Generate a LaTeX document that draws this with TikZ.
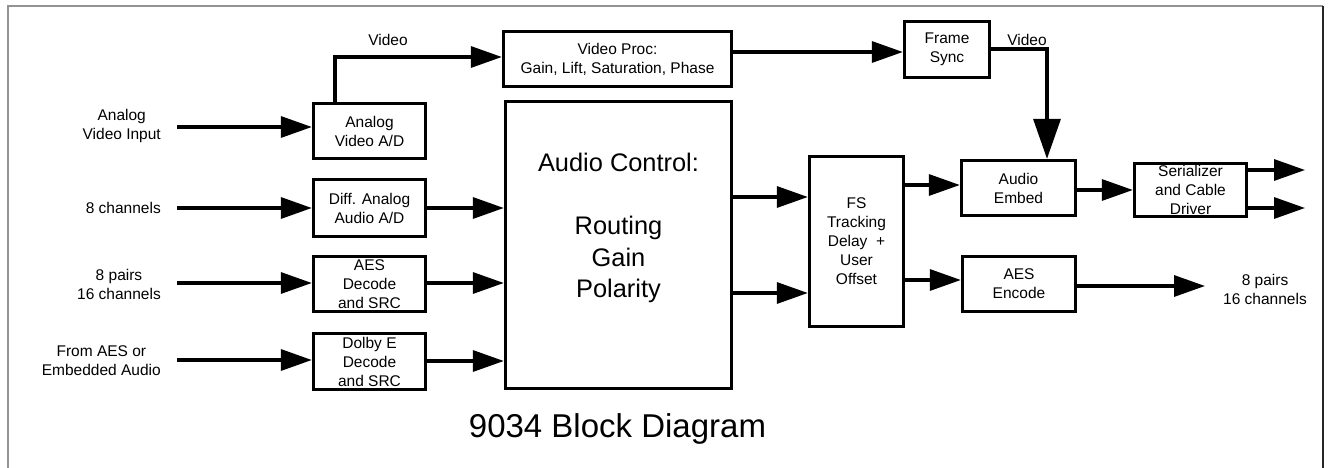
\documentclass[tikz,border=0pt]{standalone}
\usepackage{fontspec}
\setmainfont{Liberation Sans}
\usetikzlibrary{arrows.meta}
\tikzset{
  blk/.style={draw=black, line width=3.3pt, fill=white, inner sep=0pt, align=center,
    font=\fontsize{15.5}{19}\selectfont},
  lbl/.style={inner sep=0pt, align=center, font=\fontsize{15.5}{19}\selectfont},
  conn/.style={line width=3.3pt},
  arr/.style={conn, -{Triangle[length=31pt,width=21pt]}},
  bigarr/.style={conn, -{Triangle[length=40pt,width=27pt]}},
}
\begin{document}
\begin{tikzpicture}[x=1pt,y=-1pt]
\useasboundingbox (0,0) rectangle (1328,468);
% frame
\draw[gray!85, line width=1.5pt] (8,470) -- (8,6) -- (1323,6);
\draw[black!85, line width=1.2pt] (1323,6) -- (1323,470);

% blocks
\node[blk, minimum width=112pt, minimum height=55pt] (avd) at (369.5,131) {Analog\\Video A/D};
\node[blk, minimum width=112pt, minimum height=57pt] (dad) at (369.5,208) {Diff. Analog\\Audio A/D};
\node[blk, minimum width=112pt, minimum height=55pt] (aesd) at (369.5,284) {AES\\Decode\\and SRC};
\node[blk, minimum width=112pt, minimum height=56pt] (dolby) at (369.5,361.5) {Dolby E\\Decode\\and SRC};
\node[blk, minimum width=228pt, minimum height=55pt] (vproc) at (617.5,59) {Video Proc:\\Gain, Lift, Saturation, Phase};
\node[blk, minimum width=226pt, minimum height=287pt] (actl) at (618.5,245) {};
\node[lbl, font=\fontsize{25.4}{31.5}\selectfont] (actltext) at (618.5,228) {Audio Control:\\[31.5pt]Routing\\Gain\\Polarity};
\node[blk, minimum width=85pt, minimum height=56pt] (fsync) at (947,49.5) {Frame\\Sync};
\node[blk, minimum width=94pt, minimum height=170pt] (fs) at (856.5,241.5) {FS\\Tracking\\Delay\ \ +\\User\\Offset};
\node[blk, minimum width=114pt, minimum height=55pt] (embed) at (1018.5,188) {Audio\\Embed};
\node[blk, minimum width=112pt, minimum height=53pt] (ser) at (1190.5,190) {Serializer\\and Cable\\Driver};
\node[blk, minimum width=113pt, minimum height=55pt] (aese) at (1019,284) {AES\\Encode};

% input labels
\node[lbl, anchor=east] (inav) at (161,126) {Analog\\Video Input};
\node[lbl, anchor=east] (in8) at (161,208) {8 channels};
\node[lbl, anchor=east] (inaes) at (161,284) {8 pairs\\16 channels};
\node[lbl, anchor=east] (indolby) at (161,360.5) {From AES or\\Embedded Audio};
\node[lbl] (outaes) at (1265,289) {8 pairs\\16 channels};
\node[lbl] (vid1) at (388,40) {Video};
\node[lbl] (vid2) at (1027,40) {Video};
\node[inner sep=0pt, font=\fontsize{33}{40}\selectfont, anchor=base] (title) at (617.5,437) {9034 Block Diagram};

% free ends
\coordinate (s1) at (177,127);
\coordinate (s2) at (177,208);
\coordinate (s3) at (177,283);
\coordinate (s4) at (177,360);
\coordinate (o1) at (1305,170);
\coordinate (o2) at (1305,208);
\coordinate (o3) at (1205,286);

% connectors
\draw[arr] (s1) -- (s1 -| avd.west);
\draw[arr] (s2) -- (s2 -| dad.west);
\draw[arr] (s3) -- (s3 -| aesd.west);
\draw[arr] (s4) -- (s4 -| dolby.west);

\draw[arr] (dad.east |- 0,208) -- (actl.west |- 0,208);
\draw[arr] (aesd.east |- 0,283) -- (actl.west |- 0,283);
\draw[arr] (dolby.east |- 0,361) -- (actl.west |- 0,361);

\draw[arr] (avd.north -| 335,0) |- (vproc.west |- 0,57);
\draw[arr] (vproc.east |- 0,52) -- (fsync.west |- 0,52);
\draw[bigarr] (fsync.east |- 0,49) -| (embed.north -| 1047,0);

\draw[arr] (actl.east |- 0,197) -- (fs.west |- 0,197);
\draw[arr] (actl.east |- 0,293) -- (fs.west |- 0,293);
\draw[arr] (fs.east |- 0,185) -- (embed.west |- 0,185);
\draw[arr] (fs.east |- 0,280) -- (aese.west |- 0,280);
\draw[arr] (embed.east |- 0,190) -- (ser.west |- 0,190);
\draw[arr] (ser.east |- o1) -- (o1);
\draw[arr] (ser.east |- o2) -- (o2);
\draw[arr] (aese.east |- o3) -- (o3);
\end{tikzpicture}
\end{document}
